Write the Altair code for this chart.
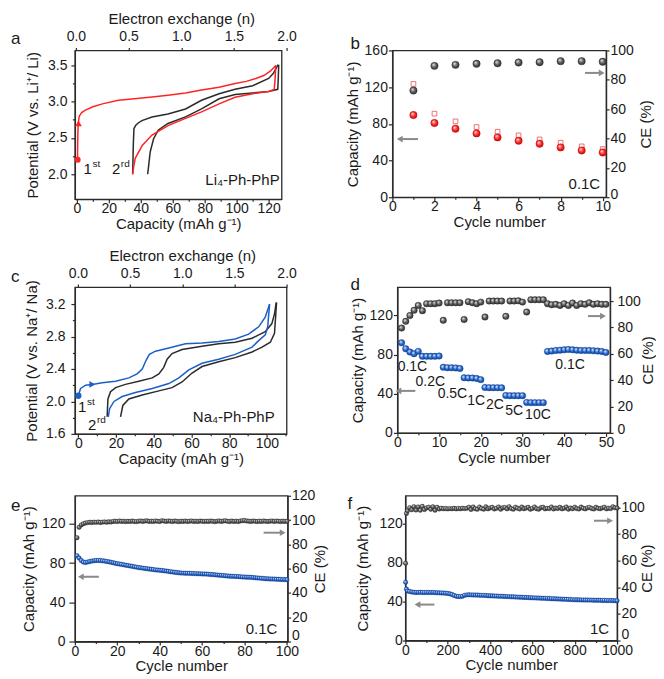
import altair as alt
import pandas as pd

FONT = "Liberation Sans"
RED = "#ff2424"
DARK = "#2b2b2b"
BLUE = "#1b5fc6"
ARROW = "#8a8a8a"
TXT = "#1a1a1a"

# ---------------- (a) Li4-Ph-PhP voltage profiles ----------------
a_c1_chg_cap = [0.4, 0.5, 0.8, 1.5, 3, 5, 10, 16, 26, 36, 47, 57, 68, 78, 89, 99, 106, 112, 117, 121, 124.5]
a_c1_chg_v = [2.2, 2.45, 2.7, 2.8, 2.85, 2.88, 2.93, 2.97, 3.02, 3.04, 3.065, 3.09, 3.12, 3.16, 3.2, 3.25, 3.28, 3.32, 3.36, 3.42, 3.5]
a_c1_dis_cap = [124.5, 124.0, 123.5, 120, 110, 99, 89, 78, 68, 57, 47, 41, 36.5, 35.5, 34.9]
a_c1_dis_v = [3.5, 3.3, 3.17, 3.14, 3.11, 3.06, 2.97, 2.86, 2.77, 2.67, 2.54, 2.4, 2.22, 2.1, 2.0]
a_c2_chg_cap = [34.9, 35.3, 35.7, 37, 38.6, 40.7, 47, 57, 68, 78, 89, 99, 110, 120, 123, 125.9]
a_c2_chg_v = [2.0, 2.4, 2.63, 2.68, 2.71, 2.74, 2.79, 2.83, 2.9, 3.02, 3.11, 3.17, 3.22, 3.32, 3.39, 3.51]
a_c2_dis_cap = [126.3, 126.0, 125.7, 120, 110, 99, 89, 78, 68, 57, 51, 48, 45.9, 44.3]
a_c2_dis_v = [3.51, 3.3, 3.17, 3.14, 3.12, 3.1, 3.04, 2.9, 2.79, 2.7, 2.61, 2.49, 2.31, 2.0]

# ---------------- (b) Li cycling 0.1C ----------------
b_cycle = [1, 2, 3, 4, 5, 6, 7, 8, 9, 10]
b_dis = [89.6, 80.9, 74.7, 69.6, 65.2, 61.6, 58.3, 54.3, 51.0, 48.8]
b_chg = [123.5, 91.1, 82.7, 76.5, 71.4, 67.4, 63.0, 59.4, 55.4, 52.5]
b_ce = [72.7, 89.5, 90.2, 90.9, 91.3, 91.8, 92.0, 92.7, 92.7, 92.3]

# ---------------- (c) Na4-Ph-PhP voltage profiles ----------------
c_c1_chg_cap = [0, 1.2, 3.9, 7.4, 12.7, 19.8, 26.8, 31.2, 33.9, 36.0, 37.7, 40.9, 48, 56.8, 65.6, 74.4, 83.2, 90.3, 95.6, 99.1, 101.4]
c_c1_chg_v = [2.07, 2.16, 2.2, 2.21, 2.23, 2.25, 2.29, 2.34, 2.4, 2.51, 2.58, 2.62, 2.66, 2.71, 2.72, 2.74, 2.77, 2.83, 2.92, 3.04, 3.2]
c_c1_dis_cap = [101.4, 100.4, 99.1, 95.6, 92.1, 83.2, 74.4, 65.6, 58.6, 53.3, 48, 39.2, 30.3, 23.3, 18.9, 16.6, 15.9]
c_c1_dis_v = [3.2, 2.92, 2.82, 2.75, 2.67, 2.58, 2.52, 2.47, 2.39, 2.29, 2.22, 2.16, 2.11, 2.06, 2.0, 1.91, 1.81]
c_c2_chg_cap = [15.3, 15.7, 17.1, 19.8, 25, 32.1, 39.2, 42.7, 45.3, 47.1, 49.7, 55, 65.6, 74.4, 83.2, 92.1, 99.1, 102.6, 104, 104.9]
c_c2_chg_v = [1.81, 2.03, 2.12, 2.17, 2.21, 2.25, 2.29, 2.34, 2.42, 2.52, 2.59, 2.64, 2.68, 2.71, 2.73, 2.78, 2.86, 2.96, 3.08, 3.22]
c_c2_dis_cap = [105.1, 104, 101.8, 97.4, 92.1, 83.2, 74.4, 65.6, 60.3, 55, 49.7, 42.7, 33.9, 26.8, 23.6, 22.4]
c_c2_dis_v = [3.22, 2.84, 2.73, 2.67, 2.61, 2.54, 2.49, 2.43, 2.35, 2.24, 2.17, 2.13, 2.08, 2.03, 1.95, 1.81]

# ---------------- (d) Na rate capability ----------------
d_cycle = list(range(1, 51))
d_cap = [92.1, 86.0, 82.6, 80.9, 83.3, 78.2, 78.2, 78.2, 78.2, 78.5,
         67.0, 66.6, 66.6, 66.4, 65.8, 56.3, 56.1, 56.1, 55.6, 54.4,
         46.4, 46.2, 46.2, 46.2, 46.0, 38.2, 38.0, 38.0, 38.0, 38.0,
         31.1, 30.9, 30.9, 30.9, 30.9, 83.2, 83.6, 84.2, 84.5, 84.9,
         85.2, 84.9, 84.5, 84.2, 84.2, 84.2, 83.9, 83.6, 83.2, 82.2]
d_ce = [79.5, 84.6, 89.0, 93.0, 96.7, 92.7, 98.0, 98.0, 98.0, 98.5,
        85.4, 98.7, 98.7, 98.7, 98.7, 86.0, 99.5, 98.7, 98.0, 99.2,
        87.9, 100.0, 100.0, 100.0, 100.0, 88.4, 100.0, 100.0, 100.2, 99.2,
        91.7, 101.0, 101.0, 101.0, 101.0, 98.0, 97.2, 97.5, 96.7, 98.0,
        96.7, 98.5, 96.7, 98.0, 97.5, 98.7, 97.5, 98.0, 97.5, 97.5]
d_rates = ["0.1C", "0.2C", "0.5C", "1C", "2C", "5C", "10C", "0.1C"]
d_rate_x = [3.6, 7.9, 13.2, 18.9, 23.4, 28.0, 33.7, 41.4]
d_rate_y = [67.4, 52.0, 39.8, 32.7, 28.6, 22.5, 18.4, 69.4]

# ---------------- (e) Na cycling 0.1C ----------------
e_cycle = list(range(1, 101))
e_cap = [87.5, 85.0, 82.5, 81.0, 80.5, 81.0, 81.5, 82.0, 82.3, 82.5,
         82.6, 82.5, 82.3, 82.0, 81.6, 81.2, 80.8, 80.3, 79.8, 79.3,
         79.0, 78.6, 78.2, 77.8, 77.4, 77.0, 76.6, 76.2, 75.8, 75.4,
         75.1, 74.8, 74.5, 74.2, 73.9, 73.6, 73.3, 73.0, 72.8, 72.6,
         72.4, 72.1, 71.8, 71.5, 71.2, 70.9, 70.6, 70.3, 70.0, 69.8,
         69.7, 69.6, 69.5, 69.5, 69.4, 69.3, 69.2, 69.1, 69.0, 68.9,
         68.8, 68.7, 68.6, 68.4, 68.2, 68.0, 67.8, 67.6, 67.4, 67.2,
         67.0, 66.8, 66.6, 66.5, 66.4, 66.3, 66.2, 66.0, 65.8, 65.7,
         65.6, 65.5, 65.4, 65.2, 65.0, 64.8, 64.6, 64.4, 64.2, 64.0,
         63.9, 63.8, 63.7, 63.6, 63.5, 63.4, 63.3, 63.2, 63.1, 63.0]
e_ce = [85.5, 94.0, 96.0, 97.0, 97.6, 97.9, 98.2, 98.0, 98.3, 98.1,
        98.4, 98.0, 98.3, 98.5, 98.2, 98.6, 98.4, 98.9, 99.1, 98.8,
        99.2, 98.9, 99.1, 98.7, 99.0, 98.8, 99.2, 98.9, 98.7, 99.1,
        99.3, 98.9, 99.2, 99.4, 98.8, 99.1, 98.9, 99.3, 99.0, 98.8,
        99.5, 99.2, 98.9, 99.3, 99.1, 98.8, 99.2, 99.0, 98.7, 99.1,
        98.9, 99.2, 98.8, 99.0, 99.3, 98.9, 99.1, 98.8, 99.2, 99.0,
        98.8, 99.1, 98.9, 99.2, 99.0, 98.7, 99.1, 99.3, 98.9, 99.2,
        99.4, 99.0, 98.8, 99.2, 98.9, 99.1, 98.8, 99.3, 99.5, 99.6,
        99.3, 99.1, 98.9, 99.2, 99.0, 98.8, 99.1, 98.9, 99.2, 99.0,
        98.8, 99.1, 99.3, 98.9, 99.2, 99.0, 98.8, 99.1, 98.9, 99.0]

# ---------------- (f) Na cycling 1C (every 10th cycle) ----------------
f_cycle = [1, 5] + list(range(10, 1001, 10))
f_cap = [60.0, 53.0,
         51.0, 50.5, 50.0, 49.6, 49.5, 49.5, 49.6, 49.5, 49.4, 49.5,
         49.5, 49.4, 49.5, 49.3, 49.2, 49.1, 49.0, 48.9, 48.7, 48.5,
         48.1, 47.4, 46.4, 45.6, 45.3, 45.2, 45.6, 46.5, 47.0, 47.1,
         47.0, 46.9, 46.8, 46.8, 46.6, 46.5, 46.5, 46.3, 46.2, 46.0,
         46.0, 45.8, 45.8, 45.6, 45.5, 45.5, 45.3, 45.2, 45.2, 45.0,
         45.0, 44.8, 44.7, 44.6, 44.5, 44.4, 44.3, 44.2, 44.1, 44.0,
         43.9, 43.8, 43.7, 43.6, 43.5, 43.4, 43.3, 43.2, 43.1, 43.0,
         42.9, 42.8, 42.7, 42.6, 42.5, 42.4, 42.3, 42.2, 42.1, 42.0,
         41.9, 41.9, 41.8, 41.8, 41.7, 41.7, 41.6, 41.6, 41.5, 41.5,
         41.4, 41.4, 41.3, 41.3, 41.2, 41.2, 41.1, 41.1, 41.0, 41.0]
f_ce = [58.0, 95.5,
        97.5, 99.8, 98.2, 100.6, 98.0, 100.4, 97.8, 100.8, 98.4, 99.6,
        100.2, 98.6, 100.5, 97.9, 100.1, 98.8, 99.4, 99.0, 99.2, 98.9,
        99.1, 99.0, 99.3, 98.9, 99.2, 99.0, 99.4, 99.1, 99.3, 100.2,
        98.5, 100.4, 99.0, 98.6, 100.3, 99.2, 98.7, 100.5, 98.9, 99.6,
        100.1, 98.8, 99.3, 100.4, 98.6, 99.7, 100.0, 98.9, 100.6, 99.1,
        98.7, 100.2, 99.4, 98.8, 100.3, 99.0, 99.5, 100.1, 98.6, 99.2,
        100.4, 99.0, 98.7, 99.8, 100.2, 98.9, 99.3, 99.1, 100.3, 98.8,
        99.5, 99.2, 100.1, 98.9, 99.4, 100.4, 98.7, 99.6, 99.0, 100.2,
        99.1, 98.8, 100.3, 99.4, 98.9, 99.7, 100.0, 99.2, 98.8, 100.1,
        99.3, 99.0, 99.6, 100.2, 98.9, 99.4, 99.1, 100.5, 99.8, 99.5]

# major / minor tick values of the x axes
a_xt, a_xm = [0, 20, 40, 60, 80, 100, 120], [10, 30, 50, 70, 90, 110]
b_xt, b_xm = [0, 2, 4, 6, 8, 10], [1, 3, 5, 7, 9]
c_xt, c_xm = [0, 20, 40, 60, 80, 100], [10, 30, 50, 70, 90, 110]
d_xt, d_xm = [0, 10, 20, 30, 40, 50], [5, 15, 25, 35, 45]
e_xt, e_xm = [0, 20, 40, 60, 80, 100], [10, 30, 50, 70, 90]
f_xt, f_xm = [0, 200, 400, 600, 800, 1000], [100, 300, 500, 700, 900]
a_yt, a_ym = [2.0, 2.5, 3.0, 3.5], [2.25, 2.75, 3.25]
c_yt, c_ym = [1.6, 2.0, 2.4, 2.8, 3.2], [1.8, 2.2, 2.6, 3.0]


# ---------------- helpers ----------------
def grad(light, mid, dark):
    return alt.RadialGradient(
        gradient="radial",
        stops=[alt.GradientStop(color=light, offset=0),
               alt.GradientStop(color=mid, offset=0.5),
               alt.GradientStop(color=dark, offset=1)],
        x1=0.35, y1=0.32, r1=0.02, x2=0.5, y2=0.5, r2=0.6)

G_DARK = grad("#e6e6e6", "#5c5c5c", "#222222")
G_RED = grad("#ffe0e0", "#ff2a2a", "#b00000")
G_BLUE = grad("#e0ecff", "#2a6ad0", "#0b3a8a")

ONE = pd.DataFrame({"k": [0]})


def seg(xs, ys, name):
    return pd.DataFrame({"x": xs, "y": ys, "i": list(range(len(xs))), "s": name})


def lines(dfs, color, X, Y):
    return alt.Chart(pd.concat(dfs)).mark_line(color=color, strokeWidth=1.5).encode(
        x=X, y=Y, detail="s:N", order="i:Q")


def box(l, r, t, b):
    return alt.Chart(ONE).mark_rect(opacity=0).encode(
        x=alt.value(l), x2=alt.value(r), y=alt.value(t), y2=alt.value(b))


def letter(ch, dx, dy):
    return alt.Chart(ONE).mark_text(text=ch, fontSize=17, align="left", baseline="alphabetic",
                                    color=TXT, font=FONT).encode(x=alt.value(dx), y=alt.value(dy))


def note(s, x, y, X, Y, yf, size=15, align="left", baseline="alphabetic", dx=0, dy=0):
    df = pd.DataFrame({"x": [x], yf: [y], "t": [s]})
    return alt.Chart(df).mark_text(fontSize=size, align=align, baseline=baseline, dx=dx, dy=dy,
                                   color=TXT, font=FONT).encode(x=X, y=Y, text="t:N")


def arrow(tail, head, y, X, Y, yf):
    df = pd.DataFrame({"x": [tail], "x2": [head], yf: [y]})
    rule = alt.Chart(df).mark_rule(color=ARROW, strokeWidth=2).encode(x=X, x2="x2:Q", y=Y)
    shape = "triangle-left" if head < tail else "triangle-right"
    hd = alt.Chart(pd.DataFrame({"x": [head], yf: [y]})).mark_point(
        shape=shape, filled=True, size=45, color=ARROW, opacity=1).encode(x=X, y=Y)
    return rule + hd


def spheres(xs, ys, yf, X, Y, g, size, stroke):
    df = pd.DataFrame({"x": xs, yf: ys})
    return alt.Chart(df).mark_circle(fill=g, size=size, opacity=1, stroke=stroke,
                                     strokeWidth=0.4).encode(x=X, y=Y)


def ticks_kw(major, minor, size):
    lst = "[" + ",".join(repr(float(v)) for v in major) + "]"
    return dict(
        values=list(major) + list(minor),
        labelExpr=f"indexof({lst}, datum.value) >= 0 ? datum.label : ''",
        tickSize={"condition": {"test": f"indexof({lst}, datum.value) < 0", "value": max(size - 1.5, 1.5)},
                  "value": size},
    )


def xq(dom, major, minor, title, fmt=None):
    kw = dict(title=title, **ticks_kw(major, minor, 3.5))
    if fmt:
        kw["format"] = fmt
    return alt.X("x:Q", scale=alt.Scale(domain=dom, nice=False, zero=False), axis=alt.Axis(**kw))


def yq(field, dom, vals, title, right=False, fmt=None, lpad=2, tsize=4, tx=-33, minor=None, zoff=0):
    kw = dict(title=title, labelPadding=lpad, titleX=tx)
    if minor:
        kw.update(ticks_kw(vals, minor, tsize))
    else:
        kw.update(values=vals, tickSize=tsize)
    if fmt:
        kw["format"] = fmt
    if right:
        kw.update(orient="right", titleAngle=270, titleBaseline="top",
                  labelOffset={"condition": {"test": "datum.value === 0", "value": zoff}, "value": 0})
    return alt.Y(f"{field}:Q", scale=alt.Scale(domain=dom, nice=False, zero=False), axis=alt.Axis(**kw))


def top_axis(rng):
    return alt.Chart(pd.DataFrame({"n": [0, 2]})).mark_point(opacity=0).encode(
        x=alt.X("n:Q", scale=alt.Scale(domain=[0, 2], range=rng, nice=False, zero=False),
                axis=alt.Axis(orient="top", values=[0, 0.5, 1, 1.5, 2], format=".1f",
                              title="Electron exchange (n)", domain=False)))


CAP_T = "Capacity (mAh g⁻¹)"

# ---------------- panel a ----------------
Xa = xq([-1.25, 128.1], a_xt, a_xm, CAP_T)
Ya = yq("y", [1.656, 3.706], a_yt, "Potential (V vs. Li⁺/ Li)", fmt=".1f", lpad=4, tx=-34, minor=a_ym)
pa_main = alt.layer(
    box(-65, 257, -41, 191),
    lines([seg(a_c2_chg_cap, a_c2_chg_v, "c"), seg(a_c2_dis_cap, a_c2_dis_v, "d")], DARK, Xa, Ya),
    lines([seg(a_c1_chg_cap, a_c1_chg_v, "c"), seg(a_c1_dis_cap, a_c1_dis_v, "d")], RED, Xa, Ya),
    alt.Chart(pd.DataFrame({"x": [0.5], "y": [2.2]})).mark_circle(color=RED, size=35, opacity=1).encode(x=Xa, y=Ya),
    alt.Chart(pd.DataFrame({"x": [1.0], "y": [2.7]})).mark_point(shape="triangle-up", filled=True, color=RED, size=45, opacity=1).encode(x=Xa, y=Ya),
    note("1", 4.2, 2.0, Xa, Ya, "y"),
    note("st", 4.2, 2.0, Xa, Ya, "y", size=10, dx=9, dy=-7),
    note("2", 21.9, 2.0, Xa, Ya, "y"),
    note("rd", 21.9, 2.0, Xa, Ya, "y", size=10, dx=9, dy=-7),
    note("Li₄-Ph-PhP", 126.9, 1.85, Xa, Ya, "y", align="right"),
    letter("a", -64, -6),
)
pa = alt.layer(pa_main, top_axis([1, 212])).resolve_scale(x="independent").properties(width=207, height=149)

# ---------------- panel b ----------------
Xb = xq([0, 10.16], b_xt, b_xm, "Cycle number")
Yb = yq("cap", [0, 160], [0, 40, 80, 120, 160], CAP_T, lpad=1, tx=-32)
Yb2 = yq("ce", [0, 100], [0, 20, 40, 60, 80, 100], "CE (%)", right=True, lpad=1, tsize=3, tx=32, zoff=-3)
pb_left = alt.layer(
    box(-59, 263, -37, 195),
    alt.Chart(pd.DataFrame({"x": b_cycle, "cap": b_chg})).mark_square(
        filled=False, size=22, stroke="#f07070", strokeWidth=1, opacity=1).encode(x=Xb, y=Yb),
    spheres(b_cycle, b_dis, "cap", Xb, Yb, G_RED, 55, "#c00000"),
    arrow(1.22, 0.35, 63.4, Xb, Yb, "cap"),
    note("0.1C", 9.88, 8.7, Xb, Yb, "cap", align="right"),
    letter("b", -42, -1),
)
pb_right = alt.layer(
    spheres(b_cycle, b_ce, "ce", Xb, Yb2, G_DARK, 55, "#222222"),
    arrow(9.16, 9.95, 84.7, Xb, Yb2, "ce"),
)
pb = alt.layer(pb_left, pb_right).resolve_scale(y="independent").properties(width=214, height=147)

# ---------------- panel c ----------------
Xc = xq([-1.8, 110.4], c_xt, c_xm, CAP_T)
Yc = yq("y", [1.6, 3.41], c_yt, "Potential (V vs. Na⁺/ Na)", fmt=".1f", lpad=6, tx=-35, minor=c_ym)
pc_main = alt.layer(
    box(-65, 257, -40, 198),
    lines([seg(c_c2_chg_cap, c_c2_chg_v, "c"), seg(c_c2_dis_cap, c_c2_dis_v, "d")], DARK, Xc, Yc),
    lines([seg(c_c1_chg_cap, c_c1_chg_v, "c"), seg(c_c1_dis_cap, c_c1_dis_v, "d")], BLUE, Xc, Yc),
    alt.Chart(pd.DataFrame({"x": [0.0], "y": [2.07]})).mark_circle(color=BLUE, size=40, opacity=1).encode(x=Xc, y=Yc),
    alt.Chart(pd.DataFrame({"x": [7.4], "y": [2.21]})).mark_point(shape="triangle-right", filled=True, color=BLUE, size=45, opacity=1).encode(x=Xc, y=Yc),
    note("1", -0.2, 1.87, Xc, Yc, "y"),
    note("st", -0.2, 1.87, Xc, Yc, "y", size=10, dx=9, dy=-7),
    note("2", 5.1, 1.65, Xc, Yc, "y"),
    note("rd", 5.1, 1.65, Xc, Yc, "y", size=10, dx=9, dy=-7),
    note("Na₄-Ph-PhP", 104.1, 1.75, Xc, Yc, "y", align="right"),
    letter("c", -64, -5),
)
pc = alt.layer(pc_main, top_axis([3, 212])).resolve_scale(x="independent").properties(width=212, height=147)

# ---------------- panel d ----------------
Xd = xq([0, 51], d_xt, d_xm, "Cycle number")
Yd = yq("cap", [0, 149], [0, 40, 80, 120], CAP_T, lpad=1, tx=-32)
Yd2 = yq("ce", [0, 110.6], [0, 20, 40, 60, 80, 100], "CE (%)", right=True, lpad=4, tsize=3, tx=30, zoff=-3)
d_notes = [note(t, x, y, Xd, Yd, "cap", size=14, align="center", baseline="middle")
           for t, x, y in zip(d_rates, d_rate_x, d_rate_y)]
pd_left = alt.layer(
    box(-64, 258, -40, 198),
    spheres(d_cycle, d_cap, "cap", Xd, Yd, G_BLUE, 42, "#0b3a8a"),
    arrow(4.3, 0.25, 42.9, Xd, Yd, "cap"),
    *d_notes,
    letter("d", -47, 3),
)
pd_right = alt.layer(
    spheres(d_cycle, d_ce, "ce", Xd, Yd2, G_DARK, 42, "#222222"),
    arrow(45.7, 49.3, 88.6, Xd, Yd2, "ce"),
)
pdd = alt.layer(pd_left, pd_right).resolve_scale(y="independent").properties(width=213, height=146)

# ---------------- panel e ----------------
Xe = xq([0, 100.3], e_xt, e_xm, "Cycle number")
Ye = yq("cap", [0, 148.5], [0, 40, 80, 120], CAP_T, lpad=4, tsize=6, tx=-38)
Ye2 = yq("ce", [0, 120], [0, 20, 40, 60, 80, 100, 120], "CE (%)", right=True, lpad=1, tsize=3, tx=25, zoff=-6)
pe_left = alt.layer(
    box(-66, 256, -9, 181),
    spheres(e_cycle, e_cap, "cap", Xe, Ye, G_BLUE, 20, "#0b3a8a"),
    arrow(11.3, 2.8, 66, Xe, Ye, "cap"),
    note("0.1C", 95.5, 8.1, Xe, Ye, "cap", align="right"),
    letter("e", -64, 15),
)
pe_right = alt.layer(
    spheres(e_cycle, e_ce, "ce", Xe, Ye2, G_DARK, 20, "#333333"),
    arrow(89, 98, 89.6, Xe, Ye2, "ce"),
)
pe = alt.layer(pe_left, pe_right).resolve_scale(y="independent").properties(width=213, height=146)

# ---------------- panel f ----------------
Xf = xq([0, 1000], f_xt, f_xm, "Cycle number", fmt="d")
Yf = yq("cap", [0, 149], [0, 40, 80, 120], CAP_T, lpad=0, tsize=3, tx=-35)
Yf2 = yq("ce", [0, 108.75], [0, 20, 40, 60, 80, 100], "CE (%)", right=True, lpad=1, tsize=3, tx=22, zoff=-6)
pf_left = alt.layer(
    box(-73, 249, -9, 181),
    spheres(f_cycle, f_cap, "cap", Xf, Yf, G_BLUE, 20, "#0b3a8a"),
    arrow(137, 57, 37, Xf, Yf, "cap"),
    note("1C", 962, 7.2, Xf, Yf, "cap", align="right"),
    letter("f", -58, 13),
)
pf_right = alt.layer(
    spheres(f_cycle, f_ce, "ce", Xf, Yf2, G_DARK, 20, "#333333"),
    arrow(891, 967, 90, Xf, Yf2, "ce"),
)
pff = alt.layer(pf_left, pf_right).resolve_scale(y="independent").properties(width=212, height=145)

row1 = alt.hconcat(pa, pb, spacing=0)
row2 = alt.hconcat(pc, pdd, spacing=0)
row3 = alt.hconcat(pe, pff, spacing=0)

chart = alt.vconcat(row1, row2, row3, spacing=0, padding=0).configure(
    font=FONT
).configure_axis(
    labelFont=FONT, titleFont=FONT, labelFontSize=14, titleFontSize=15, titleFontWeight="normal",
    labelColor=TXT, titleColor=TXT, domainColor=DARK, tickColor=DARK, domainWidth=1.3, tickWidth=1.2,
    grid=False, labelFlush=False, labelOverlap=False
).configure_axisBottom(
    labelPadding=-1, titlePadding=1
).configure_axisTop(
    tickSize=3, labelPadding=4, titlePadding=3
).configure_view(
    stroke=DARK, strokeWidth=1.3
)

chart.save("out.html", embed_options={"renderer": "svg", "actions": False})
